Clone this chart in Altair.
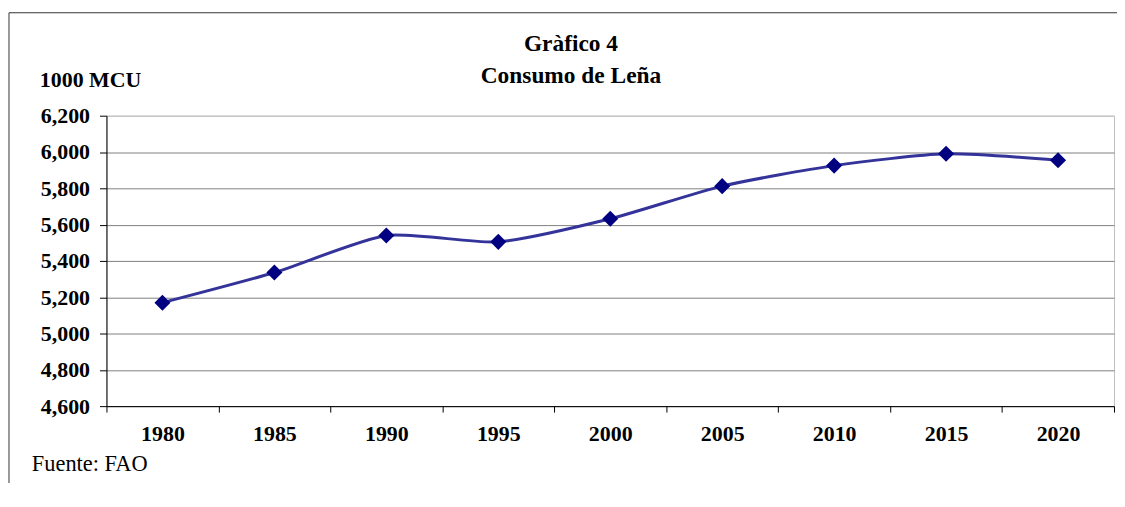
import altair as alt
import pandas as pd

# ---- data ----
years = ["1980", "1985", "1990", "1995", "2000", "2005", "2010", "2015", "2020"]
consumo = [5170, 5336, 5540, 5505, 5632, 5812, 5925, 5990, 5955]
y_ticks = [4600, 4800, 5000, 5200, 5400, 5600, 5800, 6000, 6200]
title_1 = "Gràfico 4"
title_2 = "Consumo de Leña"
unit_label = "1000 MCU"
source_label = "Fuente: FAO"

df = pd.DataFrame({"year": years, "value": consumo})

W, H = 1013, 292
FONT = "'Liberation Serif', 'Times New Roman', Times, serif"
LABEL_SIZE = 22

x_enc = alt.X(
    "year:O",
    sort=years,
    scale=alt.Scale(type="band", paddingInner=0, paddingOuter=0),
    axis=alt.Axis(
        title=None, labelAngle=0, tickBand="extent", tickSize=6,
        tickColor="#000000", domainColor="#000000",
        labelBaseline="alphabetic", labelPadding=29,
        labelFont=FONT, labelFontSize=LABEL_SIZE, labelFontWeight="bold",
        labelColor="#000000", grid=False,
    ),
)
y_enc = alt.Y(
    "value:Q",
    scale=alt.Scale(domain=[y_ticks[0], y_ticks[-1]], nice=False, zero=False),
    axis=alt.Axis(
        title=None, values=y_ticks, format=",d", tickSize=7, labelPadding=10,
        tickColor="#000000", domainColor="#000000",
        labelFont=FONT, labelFontSize=LABEL_SIZE, labelFontWeight="bold",
        labelColor="#000000", grid=True,
        gridColor=alt.condition("datum.value == 6200", alt.value("#c0c0c0"), alt.value("#808080")),
        gridWidth=1,
    ),
)

base = alt.Chart(df).encode(x=x_enc, y=y_enc)
line = base.mark_line(interpolate="cardinal", tension=0.35, color="#333399", strokeWidth=3)
points = base.mark_point(shape="diamond", filled=True, size=260, color="#000080", opacity=1)

one = alt.Data(values=[{}])

def label(txt, xv, yv, size, weight, align):
    return alt.Chart(one).mark_text(
        font=FONT, fontSize=size, fontWeight=weight, align=align,
        baseline="alphabetic", color="#000000",
    ).encode(x=alt.value(xv), y=alt.value(yv), text=alt.value(txt))

t1 = label(title_1, 467, -65, 23.5, "bold", "center")
t2 = label(title_2, 467, -33, 23.5, "bold", "center")
t3 = label(unit_label, -67, -29, LABEL_SIZE, "bold", "left")
t4 = label(source_label, -75, 357, 22.5, "normal", "left")

border_top = alt.Chart(one).mark_rule(color="#333333", strokeWidth=1).encode(
    x=alt.value(-98), x2=alt.value(W + 20), y=alt.value(-103.5)
)
border_left = alt.Chart(one).mark_rule(color="#333333", strokeWidth=1).encode(
    x=alt.value(-98), y=alt.value(-103.5), y2=alt.value(H + 100)
)

chart = (
    alt.layer(border_top, border_left, line, points, t1, t2, t3, t4)
    .properties(
        width=W, height=H,
        autosize=alt.AutoSizeParams(type="none"),
        padding={"left": 99, "top": 107, "right": 3, "bottom": 76},
        background="#ffffff",
    )
    .configure_view(stroke="#c0c0c0", strokeWidth=1)
)

chart.save("out.html", embed_options={"renderer": "svg", "actions": False})
